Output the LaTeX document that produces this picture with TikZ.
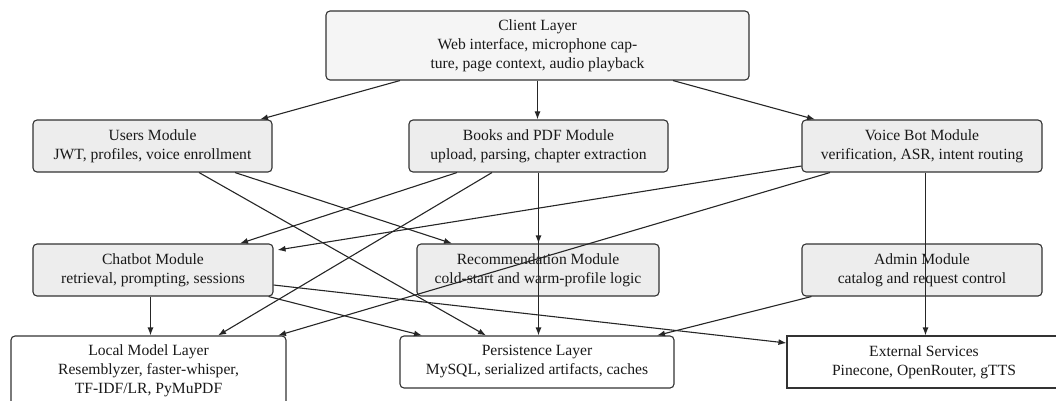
\documentclass[tikz,border=0pt]{standalone}
\usepackage{fontspec}
\setmainfont{Liberation Serif}
\usetikzlibrary{arrows.meta,calc}
\begin{document}
\begin{tikzpicture}[x=1pt,y=-1pt,
  base/.style={draw=black!80,line width=1.1pt,align=center,inner sep=0pt,
    font=\fontsize{15.6}{19}\selectfont,text=black!90},
  toplayer/.style={base,rounded corners=4pt,fill=black!4},
  module/.style={base,rounded corners=4pt,fill=black!7},
  lower/.style={base,rounded corners=4pt,fill=white},
  plain/.style={base,fill=white},
  conn/.style={draw=black!85,line width=1.1pt,-{Latex[length=8pt,width=6pt]}}]
\useasboundingbox (0,0) rectangle (1056,401);
\node[toplayer,minimum width=423pt,minimum height=69pt] (client) at (537.5,45.5)
  {Client Layer\\Web interface, microphone cap-\\ture, page context, audio playback};
\node[module,minimum width=239pt,minimum height=52pt] (users) at (152.5,146)
  {Users Module\\JWT, profiles, voice enrollment};
\node[module,minimum width=259pt,minimum height=52pt] (books) at (538.5,146)
  {Books and PDF Module\\upload, parsing, chapter extraction};
\node[module,minimum width=240pt,minimum height=52pt] (voice) at (922,146)
  {Voice Bot Module\\verification, ASR, intent routing};
\node[module,minimum width=240pt,minimum height=52pt] (chatbot) at (153,270)
  {Chatbot Module\\retrieval, prompting, sessions};
\node[module,minimum width=242pt,minimum height=52pt] (rec) at (538,270)
  {Recommendation Module\\cold-start and warm-profile logic};
\node[module,minimum width=240pt,minimum height=52pt] (admin) at (922,270)
  {Admin Module\\catalog and request control};
\node[lower,minimum width=275pt,minimum height=70pt] (local) at (148.5,371)
  {Local Model Layer\\Resemblyzer, faster-whisper,\\TF-IDF/LR, PyMuPDF};
\node[lower,minimum width=274pt,minimum height=52pt] (pers) at (537,362)
  {Persistence Layer\\MySQL, serialized artifacts, caches};
\node[plain,minimum width=274pt,minimum height=52pt] (ext) at (924,362)
  {External Services\\Pinecone, OpenRouter, gTTS};
% connectors
\draw[conn] ([xshift=-137.5pt]client.south) -- ([xshift=107.5pt]users.north);
\draw[conn] (client.south) -- (client.south |- books.north);
\draw[conn] ([xshift=135.5pt]client.south) -- ([xshift=-107pt]voice.north);
\draw[conn] ([xshift=82.5pt]users.south) -- ([xshift=-86pt]rec.north);
\draw[conn] ([xshift=46.5pt]users.south) -- ([xshift=-51pt]pers.north);
\draw[conn] ([xshift=-81.5pt]books.south) -- ([xshift=87pt]chatbot.north);
\draw[conn] ([xshift=-46.5pt]books.south) -- ([xshift=69.5pt]local.north);
\draw[conn] (books.south) -- (books.south |- rec.north);
\draw[conn] (books.south) -- (books.south |- pers.north);
\draw[conn] ([yshift=-20pt]voice.west) -- ([xshift=4pt,yshift=20pt]chatbot.east);
\draw[conn] ([xshift=-92pt]voice.south) -- ([xshift=129.5pt]local.north);
\draw[conn] ([xshift=3.5pt]voice.south) -- ([xshift=3.5pt]voice.south |- ext.north);
\draw[conn] ([xshift=-2.5pt]chatbot.south) -- ([xshift=-2.5pt]chatbot.south |- local.north);
\draw[conn] ([xshift=-5pt]chatbot.south east) -- ([xshift=-115pt]pers.north);
\draw[conn] ([yshift=-15pt]chatbot.east) -- ([yshift=19pt]ext.west);
\draw[conn] ([xshift=10pt]admin.south west) -- ([xshift=120pt]pers.north);
\end{tikzpicture}
\end{document}
